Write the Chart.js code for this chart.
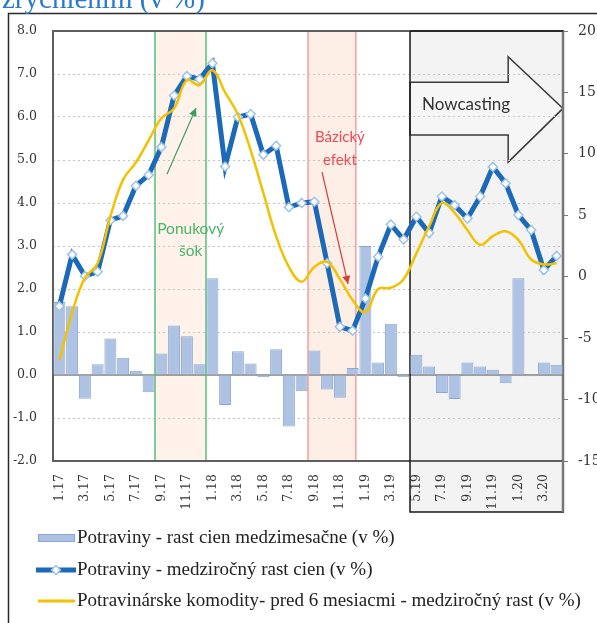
<!DOCTYPE html>
<html><head><meta charset="utf-8">
<script src="https://cdn.jsdelivr.net/npm/chart.js@4/dist/chart.umd.min.js"></script>
<style>html,body{margin:0;padding:0;background:#fff;}#wrap{width:597px;height:623px;position:relative}</style>
</head><body><div id="wrap"><canvas id="c" width="597" height="623"></canvas></div>
<script>
// ---- data ----
const months = ['1.17','2.17','3.17','4.17','5.17','6.17','7.17','8.17','9.17','10.17','11.17','12.17',
  '1.18','2.18','3.18','4.18','5.18','6.18','7.18','8.18','9.18','10.18','11.18','12.18',
  '1.19','2.19','3.19','4.19','5.19','6.19','7.19','8.19','9.19','10.19','11.19','12.19',
  '1.20','2.20','3.20','4.20'];
const monthlyChange = [1.7, 1.6, -0.55, 0.25, 0.85, 0.4, 0.1, -0.4, 0.5, 1.15, 0.9, 0.25,
  2.25, -0.7, 0.55, 0.27, -0.05, 0.6, -1.2, -0.38, 0.57, -0.34, -0.53, 0.16,
  3.0, 0.29, 1.19, -0.05, 0.47, 0.2, -0.42, -0.56, 0.29, 0.2, 0.12, -0.19,
  2.25, -0.03, 0.29, 0.24];
const yoyFood = [1.6, 2.8, 2.3, 2.4, 3.6, 3.7, 4.4, 4.65, 5.3, 6.5, 6.95, 6.88,
  7.25, 4.85, 6.0, 6.07, 5.12, 5.33, 3.9, 4.0, 4.03, 2.6, 1.12, 1.03,
  1.78, 2.75, 3.5, 3.15, 3.68, 3.3, 4.15, 3.95, 3.64, 4.15, 4.84, 4.46,
  3.72, 3.37, 2.44, 2.77];
const commodities6m = [-6.8, -2.9, -0.1, 1.1, 4.9, 7.9, 9.3, 11.1, 12.9, 13.7, 16.0, 15.6,
  16.8, 15.0, 13.2, 10.3, 6.8, 3.3, 0.8, -0.4, 0.8, 1.2, -0.2, -1.9,
  -2.9, -1.0, -0.9, -0.2, 1.9, 4.1, 6.0, 5.2, 3.8, 2.6, 3.3, 3.7,
  3.0, 1.4, 1.0, 1.1];
const seriesNames = ['Potraviny - rast cien medzimesačne (v %)',
  'Potraviny - medziročný rast cien (v %)',
  'Potravinárske komodity- pred 6 mesiacmi - medziročný rast (v %)'];
const titleText = 'zrýchlením (v %)';
// annotation ranges, in category index units / axis values
const shockRange = [7.5, 11.5];
const baseRange = [19.5, 23.25];
const nowcastFrom = 27.5;

const C_BAR = '#aec3e4', C_BAR_B = '#8aa6d2', C_BLUE = '#1c69b8', C_YEL = '#f2c200';
const SERIF = '"Liberation Serif", "Times New Roman", serif';
const WSERIF = '"DejaVu Serif", serif';
const SANS = 'Lato, "Open Sans", sans-serif';

function P(chart, idx, val) {
  return [chart.scales.x.getPixelForValue(idx), chart.scales.y.getPixelForValue(val)];
}
function arrow(ctx, x1, y1, x2, y2, color) {
  ctx.save();
  ctx.strokeStyle = color; ctx.fillStyle = color; ctx.lineWidth = 1.2;
  ctx.beginPath(); ctx.moveTo(x1, y1); ctx.lineTo(x2, y2); ctx.stroke();
  const a = Math.atan2(y2 - y1, x2 - x1), L = 8, W = 4;
  ctx.beginPath();
  ctx.moveTo(x2, y2);
  ctx.lineTo(x2 - L * Math.cos(a) + W * Math.sin(a), y2 - L * Math.sin(a) - W * Math.cos(a));
  ctx.lineTo(x2 - L * Math.cos(a) - W * Math.sin(a), y2 - L * Math.sin(a) + W * Math.cos(a));
  ctx.closePath(); ctx.fill();
  ctx.restore();
}

const decor = {
  id: 'decor',
  beforeDraw(chart) {
    const ctx = chart.ctx, a = chart.chartArea;
    ctx.save();
    const nx = chart.scales.x.getPixelForValue(nowcastFrom);
    ctx.fillStyle = '#f3f3f3';
    ctx.fillRect(nx, a.top, a.right - nx, 512 - a.top);
    const gx1 = chart.scales.x.getPixelForValue(shockRange[0]), gx2 = chart.scales.x.getPixelForValue(shockRange[1]);
    ctx.fillStyle = 'rgba(252,226,210,0.45)';
    ctx.fillRect(gx1, a.top, gx2 - gx1, a.bottom - a.top);
    const rx1 = chart.scales.x.getPixelForValue(baseRange[0]), rx2 = chart.scales.x.getPixelForValue(baseRange[1]);
    ctx.fillStyle = 'rgba(252,224,205,0.5)';
    ctx.fillRect(rx1, a.top, rx2 - rx1, a.bottom - a.top);
    // big arrow
    const [bx, bt] = P(chart, nowcastFrom, 6.81);
    const [, bb] = P(chart, nowcastFrom, 5.58);
    const [hx, ht] = P(chart, 35.2, 7.4);
    const [, hb] = P(chart, 35.2, 4.95);
    const [tx, ty] = P(chart, 39.5, 6.2);
    ctx.beginPath();
    ctx.moveTo(bx, bt); ctx.lineTo(hx, bt); ctx.lineTo(hx, ht); ctx.lineTo(tx, ty);
    ctx.lineTo(hx, hb); ctx.lineTo(hx, bb); ctx.lineTo(bx, bb); ctx.closePath();
    ctx.fillStyle = '#f6f6f6'; ctx.fill();
    ctx.strokeStyle = '#3a3a3a'; ctx.lineWidth = 1.5; ctx.stroke();
    ctx.restore();
  },
  beforeDatasetsDraw(chart) {
    const ctx = chart.ctx, a = chart.chartArea;
    ctx.save();
    const y0 = chart.scales.y.getPixelForValue(0);
    ctx.strokeStyle = '#808080'; ctx.lineWidth = 1.5;
    ctx.beginPath(); ctx.moveTo(a.left, y0); ctx.lineTo(a.right, y0); ctx.stroke();
    const gx1 = chart.scales.x.getPixelForValue(shockRange[0]), gx2 = chart.scales.x.getPixelForValue(shockRange[1]);
    ctx.strokeStyle = '#55c07a'; ctx.lineWidth = 1.5;
    ctx.strokeRect(gx1, a.top, gx2 - gx1, a.bottom - a.top);
    const rx1 = chart.scales.x.getPixelForValue(baseRange[0]), rx2 = chart.scales.x.getPixelForValue(baseRange[1]);
    ctx.strokeStyle = '#f3a0a0';
    ctx.strokeRect(rx1, a.top, rx2 - rx1, a.bottom - a.top);
    ctx.strokeStyle = '#5f5f5f'; ctx.lineWidth = 2;
    ctx.strokeRect(a.left, a.top, a.right - a.left, a.bottom - a.top);
    const nx = chart.scales.x.getPixelForValue(nowcastFrom);
    ctx.strokeStyle = '#1a1a1a'; ctx.lineWidth = 1.5;
    ctx.beginPath();
    ctx.moveTo(nx, a.top); ctx.lineTo(nx, 512); ctx.lineTo(a.right + 1, 512);
    ctx.stroke();
    ctx.strokeStyle = '#777'; ctx.lineWidth = 2.5;
    ctx.beginPath(); ctx.moveTo(a.right, a.top); ctx.lineTo(a.right, 512); ctx.stroke();
    ctx.strokeStyle = '#1a1a1a'; ctx.lineWidth = 1.5;
    ctx.beginPath(); ctx.moveTo(nx, a.top); ctx.lineTo(a.right, a.top); ctx.stroke();
    // texts
    ctx.textAlign = 'center'; ctx.textBaseline = 'middle';
    ctx.font = '15.5px ' + SANS;
    ctx.fillStyle = '#47b56a';
    let p = P(chart, 10.3, 3.4); ctx.fillText('Ponukový', p[0], p[1]);
    p = P(chart, 10.3, 2.88); ctx.fillText('šok', p[0], p[1]);
    ctx.font = '15px ' + SANS;
    ctx.fillStyle = '#ef4b55';
    p = P(chart, 22.0, 5.53); ctx.fillText('Bázický', p[0], p[1]);
    p = P(chart, 22.0, 5.0); ctx.fillText('efekt', p[0], p[1]);
    ctx.font = '17px ' + SANS;
    ctx.fillStyle = '#333';
    p = P(chart, 31.9, 6.3); ctx.fillText('Nowcasting', p[0], p[1]);
    let s = P(chart, 8.44, 4.67), e = P(chart, 10.72, 6.21);
    arrow(ctx, s[0], s[1], e[0], e[1], '#3f9d60');
    s = P(chart, 20.6, 4.72); e = P(chart, 22.64, 2.12);
    arrow(ctx, s[0], s[1], e[0], e[1], '#d83a3a');
    ctx.restore();
  },
  afterDraw(chart) {
    const ctx = chart.ctx;
    ctx.save();
    ctx.strokeStyle = '#2a2a2a'; ctx.lineWidth = 1.5;
    ctx.beginPath(); ctx.moveTo(597, 13.5); ctx.lineTo(8.5, 13.5); ctx.lineTo(8.5, 623); ctx.stroke();
    ctx.fillStyle = '#2a7acc'; ctx.font = '29px ' + SERIF;
    ctx.textAlign = 'left'; ctx.textBaseline = 'alphabetic';
    ctx.fillText(titleText, 2, 8);
    // legend
    const rows = [538, 570, 601];
    ctx.font = '19px ' + SERIF; ctx.textBaseline = 'middle';
    ctx.fillStyle = C_BAR; ctx.fillRect(38, rows[0] - 4, 37, 8);
    ctx.strokeStyle = C_BAR_B; ctx.lineWidth = 1; ctx.strokeRect(38.5, rows[0] - 3.5, 36, 7);
    ctx.strokeStyle = C_BLUE; ctx.lineWidth = 5;
    ctx.beginPath(); ctx.moveTo(36, rows[1]); ctx.lineTo(76, rows[1]); ctx.stroke();
    ctx.fillStyle = '#fff'; ctx.strokeStyle = '#9cc3e5'; ctx.lineWidth = 1.5;
    ctx.beginPath(); ctx.moveTo(56, rows[1] - 4.5); ctx.lineTo(60.5, rows[1]); ctx.lineTo(56, rows[1] + 4.5); ctx.lineTo(51.5, rows[1]); ctx.closePath();
    ctx.fill(); ctx.stroke();
    ctx.strokeStyle = C_YEL; ctx.lineWidth = 3;
    ctx.beginPath(); ctx.moveTo(38, rows[2]); ctx.lineTo(75, rows[2]); ctx.stroke();
    ctx.fillStyle = '#222';
    chart.data.datasets.forEach((ds, i) => ctx.fillText(ds.label, 77, rows[i]));
    ctx.restore();
  }
};

new Chart(document.getElementById('c'), {
  data: {
    labels: months,
    datasets: [
      { type: 'bar', label: seriesNames[0], data: monthlyChange, yAxisID: 'y', order: 3,
        backgroundColor: C_BAR, borderColor: C_BAR_B, borderWidth: 1,
        barPercentage: 0.94, categoryPercentage: 1.0 },
      { type: 'line', label: seriesNames[1], data: yoyFood, yAxisID: 'y', order: 2,
        borderColor: C_BLUE, borderWidth: 5, tension: 0,
        pointStyle: 'rectRot', pointRadius: 4.5, pointBackgroundColor: '#fff',
        pointBorderColor: '#9cc3e5', pointBorderWidth: 1.5 },
      { type: 'line', label: seriesNames[2], data: commodities6m, yAxisID: 'y2', order: 1,
        borderColor: C_YEL, borderWidth: 2.5, tension: 0.4, pointRadius: 0 }
    ]
  },
  options: {
    responsive: false, animation: false, devicePixelRatio: 1,
    layout: { padding: { top: 31, bottom: 102, left: 0, right: 0 } },
    plugins: { legend: { display: false }, tooltip: { enabled: false } },
    scales: {
      x: {
        type: 'category', offset: true,
        grid: { display: false }, border: { display: false },
        ticks: { autoSkip: false, maxRotation: 90, minRotation: 90, padding: 5,
          color: '#333', font: { family: WSERIF, size: 12.5 },
          callback: (v, i) => (i % 2 === 0 ? months[i] : '') },
        afterFit: s => { s.height = 60; }
      },
      y: {
        position: 'left', min: -2, max: 8,
        ticks: { stepSize: 1, padding: 16, color: '#333', font: { family: WSERIF, size: 12.5 },
          callback: v => v.toFixed(1) },
        grid: { drawTicks: false, lineWidth: 1,
          color: c => (c.tick && (c.tick.value === 8 || c.tick.value === -2 || c.tick.value === 0)) ? 'rgba(0,0,0,0)' : '#c4c4c4' },
        border: { display: false, dash: [2, 3] },
        afterFit: s => { s.width = 53; }
      },
      y2: {
        position: 'right', min: -15, max: 20,
        ticks: { stepSize: 5, padding: 10, color: '#333', font: { family: WSERIF, size: 14 } },
        grid: { drawOnChartArea: false, drawTicks: true, tickLength: 5, color: '#777' },
        border: { display: false },
        afterFit: s => { s.width = 34; }
      }
    }
  },
  plugins: [decor]
});
</script></body></html>
